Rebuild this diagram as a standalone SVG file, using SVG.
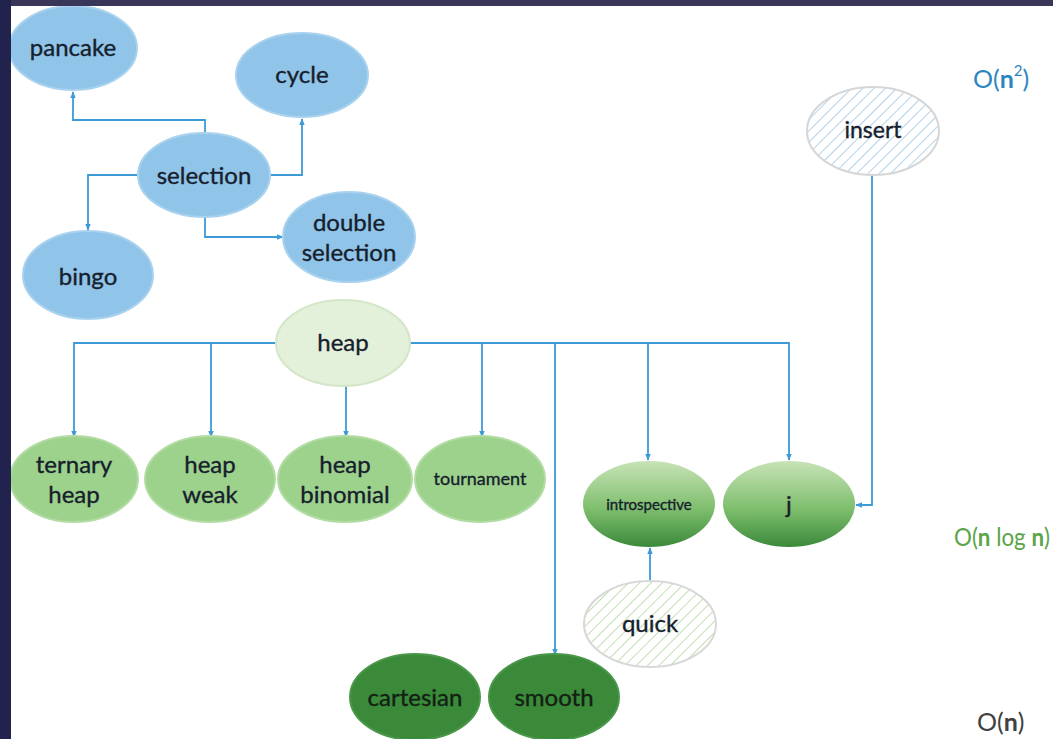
<svg xmlns="http://www.w3.org/2000/svg" width="1053" height="739" viewBox="0 0 1053 739">
<style>
.t{font-family:"Lato","Liberation Sans",sans-serif;font-size:24px;fill:#16202c;stroke:#16202c;stroke-width:0.35;text-anchor:middle;dominant-baseline:central}
.blue{fill:#90c4e8;stroke:#a9d2ef;stroke-width:2}
.lg{fill:#e3f0da;stroke:#d4e6c8;stroke-width:2}
.mg{fill:#9dd28c;stroke:#b2dca3;stroke-width:2}
.dg{fill:#3a8a3a;stroke:#4a974a;stroke-width:2}
.c{fill:none;stroke:#3d9ad8;stroke-width:1.8}
.o{font-family:"Lato","Liberation Sans",sans-serif;font-size:25px}
</style>
<defs>
<marker id="a" viewBox="0 0 10 10" refX="9" refY="5" markerWidth="7" markerHeight="7" orient="auto" markerUnits="userSpaceOnUse"><path d="M0,1 L10,5 L0,9 z" fill="#3d9ad8"/></marker>
<linearGradient id="gg" x1="0" y1="0" x2="0" y2="1"><stop offset="0" stop-color="#c7e3b6"/><stop offset="0.55" stop-color="#7fbf6e"/><stop offset="1" stop-color="#3a8a3a"/></linearGradient>
<pattern id="hb" width="8" height="8" patternUnits="userSpaceOnUse" patternTransform="rotate(45)"><rect width="8" height="8" fill="#fff"/><line x1="0" y1="0" x2="0" y2="8" stroke="#9fc7e3" stroke-width="1.6"/></pattern>
<pattern id="hg" width="8" height="8" patternUnits="userSpaceOnUse" patternTransform="rotate(45)"><rect width="8" height="8" fill="#fff"/><line x1="0" y1="0" x2="0" y2="8" stroke="#b3d69f" stroke-width="1.6"/></pattern>
</defs>
<rect width="1053" height="739" fill="#fff"/>
<g id="connectors">
<path class="c" d="M205,133 V120 H73 V92" marker-end="url(#a)"/>
<path class="c" d="M270,175 H302 V119" marker-end="url(#a)"/>
<path class="c" d="M138,175 H88 V230" marker-end="url(#a)"/>
<path class="c" d="M205,217 V237 H283" marker-end="url(#a)"/>
<path class="c" d="M277,343 H74 V437" marker-end="url(#a)"/>
<path class="c" d="M211,343 V437" marker-end="url(#a)"/>
<path class="c" d="M346,386 V437" marker-end="url(#a)"/>
<path class="c" d="M410,343 H789 V460" marker-end="url(#a)"/>
<path class="c" d="M482,343 V437" marker-end="url(#a)"/>
<path class="c" d="M555,343 V655" marker-end="url(#a)"/>
<path class="c" d="M648,343 V460" marker-end="url(#a)"/>
<path class="c" d="M872,175 V505 H856" marker-end="url(#a)"/>
<path class="c" d="M650,583 V548" marker-end="url(#a)"/>
</g>
<g id="pancake"><ellipse class="blue" cx="73" cy="48" rx="64" ry="42"/><text class="t" x="73" y="46">pancake</text></g>
<g id="cycle"><ellipse class="blue" cx="302" cy="75" rx="66" ry="42"/><text class="t" x="302" y="73">cycle</text></g>
<g id="selection"><ellipse class="blue" cx="204" cy="175" rx="66" ry="42"/><text class="t" x="204" y="174">selection</text></g>
<g id="double-selection"><ellipse class="blue" cx="349" cy="237" rx="66" ry="45"/><text class="t" x="349" y="221">double</text><text class="t" x="349" y="251">selection</text></g>
<g id="bingo"><ellipse class="blue" cx="88" cy="275" rx="65" ry="44"/><text class="t" x="88" y="275">bingo</text></g>
<g id="insert"><ellipse cx="873" cy="131" rx="66" ry="44" fill="url(#hb)" stroke="#d6d6d6" stroke-width="2"/><text class="t" x="873" y="129" style="font-size:23px">insert</text></g>
<g id="heap"><ellipse class="lg" cx="343" cy="343" rx="67" ry="43"/><text class="t" x="343" y="341">heap</text></g>
<g id="ternary-heap"><ellipse class="mg" cx="74" cy="479" rx="64" ry="43"/><text class="t" x="74" y="463">ternary</text><text class="t" x="74" y="493">heap</text></g>
<g id="heap-weak"><ellipse class="mg" cx="210" cy="479" rx="65" ry="43"/><text class="t" x="210" y="463">heap</text><text class="t" x="210" y="493">weak</text></g>
<g id="heap-binomial"><ellipse class="mg" cx="345" cy="479" rx="67" ry="43"/><text class="t" x="345" y="463">heap</text><text class="t" x="345" y="493">binomial</text></g>
<g id="tournament"><ellipse class="mg" cx="480" cy="479" rx="65" ry="43"/><text class="t" x="480" y="478" style="font-size:18px">tournament</text></g>
<g id="introspective"><ellipse cx="649" cy="504" rx="66" ry="43" fill="url(#gg)"/><text class="t" x="649" y="504" style="font-size:15px">introspective</text></g>
<g id="j"><ellipse cx="789" cy="504" rx="66" ry="43" fill="url(#gg)"/><text class="t" x="789" y="503">j</text></g>
<g id="quick"><ellipse cx="650" cy="624" rx="66" ry="43" fill="url(#hg)" stroke="#d8d8d8" stroke-width="2"/><text class="t" x="650" y="622">quick</text></g>
<g id="cartesian"><ellipse class="dg" cx="415" cy="697" rx="65" ry="43"/><text class="t" x="415" y="696" style="fill:#132013;stroke:#132013">cartesian</text></g>
<g id="smooth"><ellipse class="dg" cx="554" cy="697" rx="65" ry="43"/><text class="t" x="554" y="696" style="fill:#132013;stroke:#132013">smooth</text></g>
<text class="o" x="973" y="88" fill="#2e86c1">O(<tspan font-weight="bold">n</tspan><tspan font-size="15" dy="-12">2</tspan><tspan dy="12">)</tspan></text>
<text class="o" x="954" y="546" fill="#5aa548" textLength="96" lengthAdjust="spacingAndGlyphs">O(<tspan font-weight="bold">n</tspan> log <tspan font-weight="bold">n</tspan>)</text>
<text class="o" x="977" y="731" fill="#404040">O(<tspan font-weight="bold">n</tspan>)</text>
<rect x="0" y="0" width="1053" height="6" fill="#38375a"/>
<rect x="0" y="0" width="11" height="739" fill="#22224e"/>
</svg>
